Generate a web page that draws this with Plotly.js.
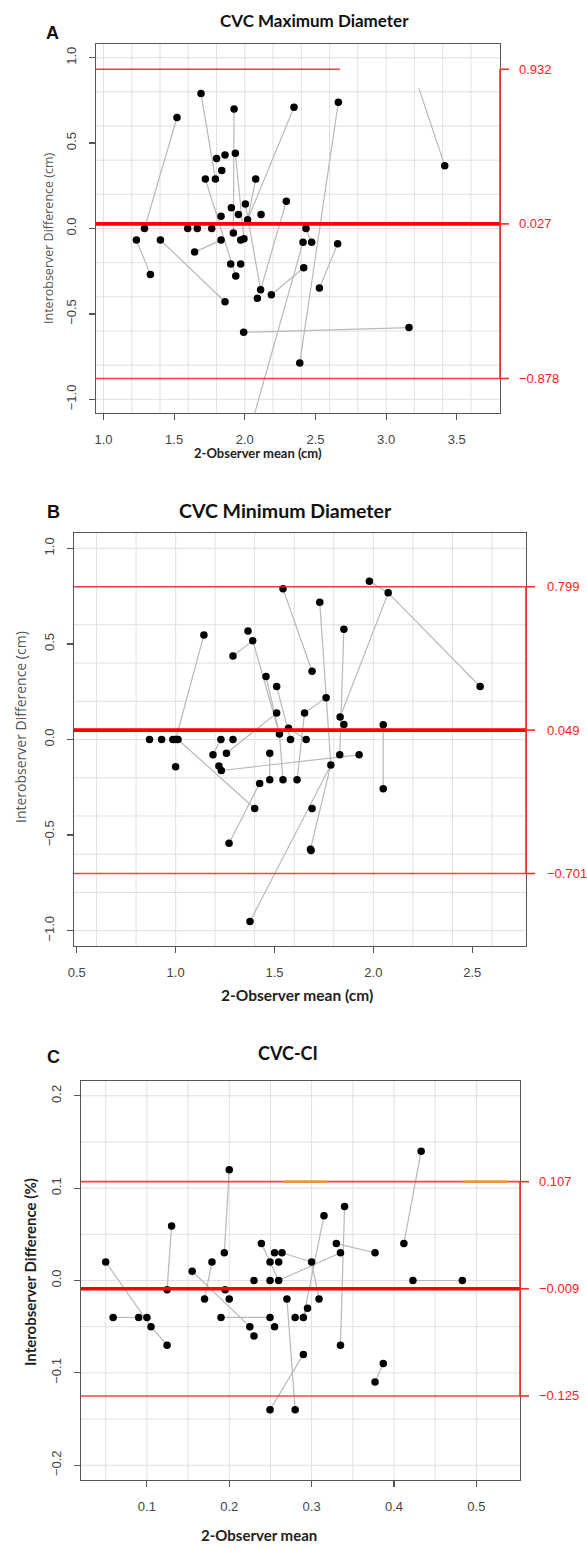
<!DOCTYPE html>
<html><head><meta charset="utf-8">
<script src="https://cdn.plot.ly/plotly-3.0.1.min.js"></script>
<style>html,body{margin:0;padding:0;background:#fff}#chart{width:587px;height:1549px}</style>
</head><body><div id="chart"></div><script>
// ---------------- DATA ----------------
// Panel A: CVC Maximum Diameter
const ptsA_x = [1.52,1.69,1.924,2.348,2.662,3.415,1.80,1.86,1.933,1.837,1.721,1.792,2.077,2.294,1.905,2.004,1.955,1.832,2.115,2.02,1.29,1.596,1.664,1.766,2.433,1.233,1.403,1.832,1.919,1.971,1.994,2.412,2.473,2.657,1.645,1.332,1.90,1.971,1.936,2.417,2.112,2.528,1.86,2.089,2.188,1.992,3.162,2.389];
const ptsA_y = [0.65,0.79,0.70,0.71,0.739,0.368,0.41,0.43,0.44,0.34,0.29,0.29,0.29,0.16,0.121,0.143,0.082,0.072,0.082,0.051,0,0,0,0,0,-0.068,-0.068,-0.068,-0.027,-0.068,-0.06,-0.08,-0.08,-0.089,-0.138,-0.269,-0.208,-0.208,-0.278,-0.23,-0.358,-0.349,-0.429,-0.409,-0.388,-0.608,-0.58,-0.787];
const segA_x0 = [1.29,1.69,1.924,1.933,2.348,2.662,2.077,2.294,2.004,1.721,1.233,1.403,1.645,2.188,2.528,2.433,1.992,2.047,3.232];
const segA_y0 = [0,0.79,0.70,0.44,0.71,0.739,0.29,0.16,0.143,0.29,-0.068,-0.068,-0.138,-0.388,-0.349,0,-0.608,-1.15,0.82];
const segA_x1 = [1.52,1.792,1.919,1.994,2.02,2.389,2.02,2.112,2.112,1.936,1.332,1.86,1.832,2.417,2.657,2.473,3.162,2.412,3.415];
const segA_y1 = [0.65,0.29,-0.027,-0.06,0.051,-0.787,0.051,-0.358,-0.358,-0.278,-0.269,-0.429,-0.068,-0.23,-0.089,-0.08,-0.58,-0.08,0.368];
const limitsA = [0.932, 0.027, -0.878];   // upper, mean, lower
const limitLabelsA = ["0.932", "0.027", "\u22120.878"];
const upperEndA = 2.674;

// Panel B: CVC Minimum Diameter
const ptsB_x = [1.98,1.543,1.729,1.851,1.143,1.366,1.39,1.29,1.69,1.457,1.511,1.761,1.511,1.652,1.832,1.851,1.571,1.525,0.868,0.929,0.986,1.0,1.012,1.229,1.29,1.581,1.66,1.189,1.257,1.476,1.83,1.928,1.0,1.219,1.231,1.425,1.476,1.543,1.614,1.785,1.40,1.69,1.27,1.682,1.685,1.376,2.075,2.54,2.05,2.05];
const ptsB_y = [0.828,0.788,0.718,0.577,0.547,0.568,0.517,0.437,0.357,0.329,0.277,0.219,0.138,0.138,0.118,0.078,0.059,0.029,0,0,0,0,0,0,0,0,0,-0.08,-0.072,-0.072,-0.08,-0.08,-0.142,-0.138,-0.162,-0.23,-0.211,-0.211,-0.211,-0.133,-0.361,-0.361,-0.543,-0.574,-0.581,-0.952,0.767,0.277,0.077,-0.257];
const segB_x0 = [1.143,1.29,1.39,1.543,1.729,1.851,1.98,2.075,2.075,1.761,1.652,1.457,1.511,1.511,1.571,1.012,1.231,1.425,1.476,1.785,1.785,2.05,1.525,1.229];
const segB_y0 = [0.547,0.437,0.517,0.788,0.718,0.577,0.828,0.767,0.767,0.219,0.138,0.329,0.277,0.138,0.059,0,-0.162,-0.23,-0.072,-0.133,-0.133,0.077,0.029,0];
const segB_x1 = [1.0,1.39,1.525,1.69,1.785,1.83,2.075,2.54,1.832,1.652,1.614,1.525,1.581,1.257,1.66,1.40,1.928,1.27,1.476,1.376,1.682,2.05,1.543,1.189];
const segB_y1 = [0,0.517,0.029,0.357,-0.133,-0.08,0.767,0.277,0.118,0.138,-0.211,0.029,0,-0.072,0,-0.361,-0.08,-0.543,-0.211,-0.952,-0.574,-0.257,-0.211,-0.08];
const limitsB = [0.799, 0.049, -0.701];
const limitLabelsB = ["0.799", "0.049", "\u22120.701"];

// Panel C: CVC-CI
const ptsC_x = [0.200,0.340,0.315,0.130,0.239,0.330,0.255,0.264,0.194,0.335,0.050,0.179,0.2495,0.26,0.30,0.155,0.23,0.2495,0.26,0.1245,0.195,0.17,0.20,0.27,0.309,0.059,0.09,0.10,0.105,0.1245,0.19,0.225,0.23,0.2495,0.255,0.28,0.29,0.295,0.335,0.29,0.2495,0.28,0.433,0.412,0.377,0.423,0.483,0.377,0.387];
const ptsC_y = [0.12,0.08,0.07,0.059,0.04,0.04,0.03,0.03,0.03,0.03,0.02,0.02,0.02,0.02,0.02,0.01,0,0,0,-0.01,-0.01,-0.02,-0.02,-0.02,-0.02,-0.04,-0.04,-0.04,-0.05,-0.07,-0.04,-0.05,-0.06,-0.04,-0.05,-0.04,-0.04,-0.03,-0.07,-0.08,-0.14,-0.14,0.14,0.04,0.03,0,0,-0.11,-0.09];
const segC_x0 = [0.05,0.105,0.059,0.13,0.20,0.155,0.179,0.19,0.239,0.264,0.26,0.315,0.34,0.33,0.27,0.2495,0.29,0.412,0.423,0.377,0.30];
const segC_y0 = [0.02,-0.05,-0.04,0.059,0.12,0.01,0.02,-0.04,0.04,0.03,0,0.07,0.08,0.04,-0.02,-0.14,-0.04,0.04,0,-0.11,0.02];
const segC_x1 = [0.105,0.1245,0.09,0.1245,0.194,0.225,0.17,0.2495,0.26,0.30,0.335,0.29,0.335,0.377,0.28,0.29,0.295,0.433,0.483,0.387,0.309];
const segC_y1 = [-0.05,-0.07,-0.04,-0.01,0.03,-0.05,-0.02,-0.04,0,0.02,0.03,-0.04,-0.07,0.03,-0.14,-0.08,-0.03,0.14,0,-0.09,-0.02];
const limitsC = [0.107, -0.009, -0.125];
const limitLabelsC = ["0.107", "\u22120.009", "\u22120.125"];
const orangeC_x0 = [0.266, 0.484];
const orangeC_x1 = [0.319, 0.538];

// Tick values
const ticksA_x = [1.0,1.5,2.0,2.5,3.0,3.5];
const ticksB_x = [0.5,1.0,1.5,2.0,2.5];
const ticksC_x = [0.1,0.2,0.3,0.4,0.5];
const ticksAB_y = [-1.0,-0.5,0.0,0.5,1.0];
const ticksC_y = [-0.2,-0.1,0.0,0.1,0.2];

// ---------------- LAYOUT HELPERS ----------------
const W = 587, H = 1549;
const fx = x => x / W, fy = y => 1 - y / H;
const boxes = {
  A: {l:96, r:500, t:44, b:413, xr:[0.947,3.806], yr:[-1.08,1.08]},
  B: {l:74, r:526, t:533, b:946, xr:[0.486,2.772], yr:[-1.08,1.08]},
  C: {l:81, r:520, t:1081, b:1480, xr:[0.02,0.553], yr:[-0.216,0.216]}
};
function segs(x0,y0,x1,y1){
  const xs=[],ys=[];
  for(let i=0;i<x0.length;i++){xs.push(x0[i],x1[i],null);ys.push(y0[i],y1[i],null);}
  return {xs,ys};
}
const tickFont = {family:'"Liberation Sans", Arial, sans-serif', size:13, color:'#444'};
function xax(box, tv){
  return {domain:[fx(box.l),fx(box.r)], range:box.xr, tickvals:tv, tickformat:'.1f',
    showgrid:false, zeroline:false, showline:true, mirror:true, linecolor:'#555', linewidth:1.3,
    ticks:'outside', ticklen:6, tickcolor:'#555', tickwidth:1.2, tickfont:tickFont, ticklabelstandoff:8};
}
function yax(box, tv){
  return {domain:[fy(box.b),fy(box.t)], range:box.yr, tickvals:tv, tickformat:'.1f',
    showgrid:false, zeroline:false, showline:true, mirror:true, linecolor:'#555', linewidth:1.3,
    ticks:'outside', ticklen:6, tickcolor:'#555', tickwidth:1.2, tickfont:tickFont, tickangle:-90, ticklabelstandoff:8};
}

const traces = [];
const shapes = [];
const annotations = [];
const panels = [
  {k:'A', xa:'x', ya:'y', px:ptsA_x, py:ptsA_y, s:segs(segA_x0,segA_y0,segA_x1,segA_y1), lim:limitsA, lab:limitLabelsA, labX:517,
   gx:[1.0,3.61], gy:[-1.0,1.01], gstep:0.2},
  {k:'B', xa:'x2', ya:'y2', px:ptsB_x, py:ptsB_y, s:segs(segB_x0,segB_y0,segB_x1,segB_y1), lim:limitsB, lab:limitLabelsB, labX:545,
   gx:[0.6,2.61], gy:[-1.0,1.01], gstep:0.2},
  {k:'C', xa:'x3', ya:'y3', px:ptsC_x, py:ptsC_y, s:segs(segC_x0,segC_y0,segC_x1,segC_y1), lim:limitsC, lab:limitLabelsC, labX:537,
   gx:[0.05,0.501], gy:[-0.2,0.201], gstep:0.05}
];

panels.forEach(p=>{
  const box = boxes[p.k];
  for(let v=p.gx[0]; v<=p.gx[1]; v+=p.gstep){
    shapes.push({type:'line', layer:'below', xref:p.xa, yref:p.ya+' domain', x0:v, x1:v, y0:0, y1:1, line:{color:'#e0e0e0', width:1}});
  }
  for(let v=p.gy[0]; v<=p.gy[1]; v+=p.gstep){
    shapes.push({type:'line', layer:'below', xref:p.xa+' domain', yref:p.ya, x0:0, x1:1, y0:v, y1:v, line:{color:'#e0e0e0', width:1}});
  }
  traces.push({type:'scatter', mode:'lines', x:p.s.xs, y:p.s.ys, xaxis:p.xa, yaxis:p.ya,
    line:{color:'#b9b9b9', width:1.2}, hoverinfo:'skip', showlegend:false, connectgaps:false});
  const upperX1 = p.k==='A' ? upperEndA : box.xr[1];
  shapes.push({type:'line', xref:p.xa, yref:p.ya, x0:box.xr[0], x1:upperX1, y0:p.lim[0], y1:p.lim[0], line:{color:'rgba(255,30,30,0.85)', width:1.6}});
  shapes.push({type:'line', xref:p.xa, yref:p.ya, x0:box.xr[0], x1:box.xr[1], y0:p.lim[2], y1:p.lim[2], line:{color:'rgba(255,30,30,0.85)', width:1.6}});
  shapes.push({type:'line', xref:p.xa, yref:p.ya, x0:box.xr[0], x1:box.xr[1], y0:p.lim[1], y1:p.lim[1], line:{color:'#ff0000', width:3.6}});
  shapes.push({type:'line', xref:'paper', yref:p.ya, x0:fx(box.r), x1:fx(box.r), y0:p.lim[2], y1:p.lim[0], line:{color:'#ff2a2a', width:1.6}});
  p.lim.forEach((v,i)=>{
    shapes.push({type:'line', xref:'paper', yref:p.ya, x0:fx(box.r), x1:fx(box.r+9), y0:v, y1:v, line:{color:'#ff2a2a', width:1.6}});
    annotations.push({xref:'paper', yref:p.ya, x:fx(p.labX), y:v, xanchor:'left', yanchor:'middle', showarrow:false,
      text:p.lab[i], font:{family:'"Liberation Sans", Arial, sans-serif', size:13, color:'#ff1a1a'}});
  });
  traces.push({type:'scatter', mode:'markers', x:p.px, y:p.py, xaxis:p.xa, yaxis:p.ya,
    marker:{color:'#000', size:7.5}, hoverinfo:'x+y', showlegend:false});
});
orangeC_x0.forEach((x0,i)=>{
  shapes.push({type:'line', xref:'x3', yref:'y3', x0:x0, x1:orangeC_x1[i], y0:limitsC[0], y1:limitsC[0], line:{color:'#f7941d', width:2.2}});
});

function ann(text,x,y,font,opts){ annotations.push(Object.assign({xref:'paper', yref:'paper', x:fx(x), y:fy(y), xanchor:'center', yanchor:'middle', showarrow:false, text, font}, opts||{})); }
const titleFam = 'Lato, "Open Sans", sans-serif';
ann('<b>CVC Maximum Diameter</b>', 314, 20, {family:titleFam, size:17, color:'#111'});
ann('<b>CVC Minimum Diameter</b>', 285, 510, {family:titleFam, size:19.5, color:'#111'});
ann('<b>CVC-CI</b>', 288, 1053, {family:titleFam, size:18, color:'#111'});
ann('<b>A</b>', 52, 33, {family:'"Liberation Sans", Arial, sans-serif', size:18, color:'#111'});
ann('<b>B</b>', 53, 512, {family:'"Liberation Sans", Arial, sans-serif', size:18, color:'#111'});
ann('<b>C</b>', 53, 1057, {family:'"Liberation Sans", Arial, sans-serif', size:18, color:'#111'});
ann('Interobserver Difference (cm)', 49, 238, {family:'"Open Sans", sans-serif', size:12.5, color:'#555'}, {textangle:-90});
ann('Interobserver Difference (cm)', 20, 727, {family:'"Open Sans", sans-serif', size:14, color:'#555'}, {textangle:-90});
ann('<b>Interobserver Difference (%)</b>', 30, 1272, {family:titleFam, size:15, color:'#222'}, {textangle:-90});
ann('<b>2-Observer mean (cm)</b>', 258, 453, {family:titleFam, size:13, color:'#222'});
ann('<b>2-Observer mean (cm)</b>', 297, 995, {family:titleFam, size:15.5, color:'#222'});
ann('<b>2-Observer mean</b>', 259, 1535, {family:titleFam, size:15, color:'#222'});

const layout = {
  width:W, height:H, autosize:false, margin:{l:0,r:0,t:0,b:0}, paper_bgcolor:'#fff', plot_bgcolor:'#fff',
  showlegend:false,
  xaxis: Object.assign(xax(boxes.A, ticksA_x), {anchor:'y'}),
  yaxis: Object.assign(yax(boxes.A, ticksAB_y), {anchor:'x'}),
  xaxis2: Object.assign(xax(boxes.B, ticksB_x), {anchor:'y2'}),
  yaxis2: Object.assign(yax(boxes.B, ticksAB_y), {anchor:'x2'}),
  xaxis3: Object.assign(xax(boxes.C, ticksC_x), {anchor:'y3'}),
  yaxis3: Object.assign(yax(boxes.C, ticksC_y), {anchor:'x3'}),
  shapes, annotations
};
Plotly.newPlot('chart', traces, layout, {displayModeBar:false, staticPlot:true});
</script></body></html>
